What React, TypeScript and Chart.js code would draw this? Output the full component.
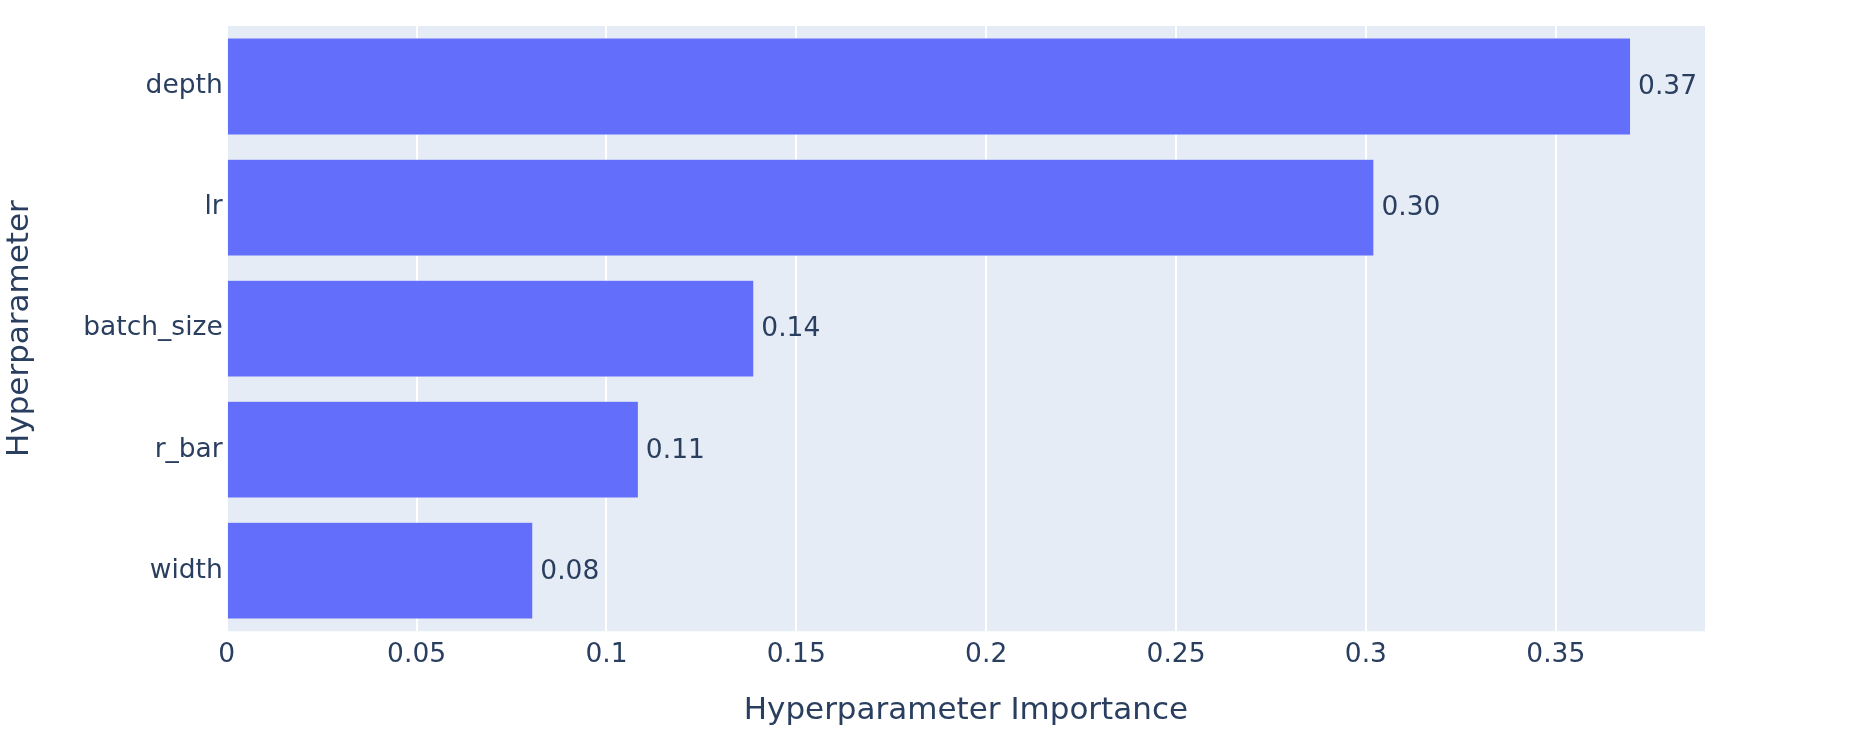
import React, { useEffect, useRef } from "react";
import { Chart, registerables } from "chart.js";

Chart.register(...registerables);

const categories: string[] = ["depth", "lr", "batch_size", "r_bar", "width"];
const importance: number[] = [0.3697, 0.3021, 0.1388, 0.1084, 0.0806];
const xTickValues: number[] = [0, 0.05, 0.1, 0.15, 0.2, 0.25, 0.3, 0.35];
const xMax = 0.3893;

const FONT = "'DejaVu Sans', Verdana, sans-serif";
const TEXT = "#2a3f5f";
const BAR = "#636efa";
const BG = "#E5ECF6";

const W = 1870;
const H = 746;

const bgPlugin = {
  id: "plotBg",
  beforeDraw(chart: any) {
    const { ctx, chartArea } = chart;
    ctx.save();
    ctx.fillStyle = "#ffffff";
    ctx.fillRect(0, 0, chart.width, chart.height);
    ctx.fillStyle = BG;
    ctx.fillRect(chartArea.left, chartArea.top, chartArea.right - chartArea.left, chartArea.bottom - chartArea.top);
    ctx.restore();
  },
};

const labelPlugin = {
  id: "barLabels",
  afterDatasetsDraw(chart: any) {
    const { ctx } = chart;
    const meta = chart.getDatasetMeta(0);
    ctx.save();
    ctx.font = `26.5px ${FONT}`;
    ctx.fillStyle = TEXT;
    ctx.textAlign = "left";
    ctx.textBaseline = "middle";
    meta.data.forEach((el: any, i: number) => {
      const v = chart.data.datasets[0].data[i] as number;
      ctx.fillText(v.toFixed(2), el.x + 7.5, el.y + 1);
    });
    ctx.restore();
  },
};

export default function App() {
  const ref = useRef<HTMLCanvasElement | null>(null);

  useEffect(() => {
    document.body.style.margin = "0";
    const canvas = ref.current;
    if (!canvas) return;
    const chart = new Chart(canvas, {
      type: "bar",
      data: {
        labels: categories,
        datasets: [
          {
            data: importance,
            backgroundColor: BAR,
            borderColor: BG,
            borderWidth: 0.5,
            barPercentage: 0.8,
            categoryPercentage: 1.0,
          },
        ],
      },
      options: {
        indexAxis: "y",
        responsive: false,
        animation: false,
        devicePixelRatio: 1,
        layout: { padding: { top: 26, right: 165, left: 0, bottom: 0 } },
        plugins: {
          legend: { display: false },
          tooltip: { enabled: false },
          title: { display: false },
        },
        scales: {
          x: {
            type: "linear",
            min: 0,
            max: xMax,
            afterFit(scale: any) {
              scale.height = H - 631.2;
            },
            afterBuildTicks(scale: any) {
              scale.ticks = xTickValues.map((v) => ({ value: v }));
            },
            ticks: {
              includeBounds: false,
              color: TEXT,
              font: { family: FONT, size: 26.5 },
              padding: 8,
              maxRotation: 0,
              autoSkip: false,
              callback: (v: any) => String(Number(Number(v).toFixed(2))),
            },
            grid: {
              color: "#ffffff",
              lineWidth: 2,
              drawTicks: false,
            },
            border: { display: false },
            title: {
              display: true,
              text: "Hyperparameter Importance",
              color: TEXT,
              font: { family: FONT, size: 31 },
              padding: { top: 0, bottom: 16 },
            },
          },
          y: {
            type: "category",
            afterFit(scale: any) {
              scale.width = 226.75;
            },
            ticks: {
              color: TEXT,
              font: { family: FONT, size: 26.5 },
              padding: 4,
              autoSkip: false,
            },
            grid: { display: false, drawTicks: false },
            border: { display: false },
            title: {
              display: true,
              text: "Hyperparameter",
              color: TEXT,
              font: { family: FONT, size: 31 },
              padding: { top: 1, bottom: 0 },
            },
          },
        },
      },
      plugins: [bgPlugin, labelPlugin],
    });
    return () => chart.destroy();
  }, []);

  return (
    <div style={{ width: W, height: H }}>
      <canvas ref={ref} width={W} height={H} style={{ display: "block", width: W, height: H }} />
    </div>
  );
}
